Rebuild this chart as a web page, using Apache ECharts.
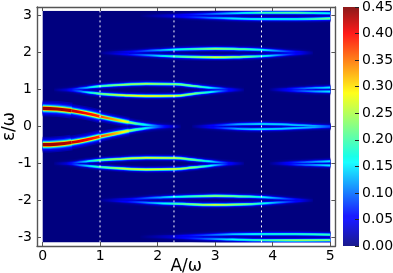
<!DOCTYPE html>
<html><head><meta charset="utf-8">
<style>html,body{margin:0;padding:0;background:#fff}#c{width:393px;height:273px}</style>
<script src="https://cdn.jsdelivr.net/npm/echarts@6/dist/echarts.min.js"></script>
</head><body><div id="c"></div>
<script>
// tick labels
const xTicks = [0, 1, 2, 3, 4, 5];
const yTicks = [-3, -2, -1, 0, 1, 2, 3];
const cbTicks = [0, 0.05, 0.1, 0.15, 0.2, 0.25, 0.3, 0.35, 0.4, 0.45];
// dotted guide lines, A/omega
const guideA = [0.997, 2.283, 3.805];

// each ridge: A values, energy, peak intensity
const mainA   = [0, 0.25, 0.5, 0.75, 1, 1.25, 1.5, 1.75, 2, 2.2, 2.4];
const mainUp  = [0.49, 0.475, 0.43, 0.36, 0.27, 0.19, 0.115, 0.055, 0.015, 0.003, 0];
const mainLo  = [-0.49, -0.475, -0.43, -0.36, -0.27, -0.19, -0.115, -0.055, -0.015, -0.003, 0];
const mainV   = [0.39, 0.39, 0.38, 0.36, 0.335, 0.29, 0.23, 0.15, 0.08, 0.03, 0];
// thickness of the main ridge along its four stretches: first knot, last knot, scale
const mainParts = [[0, 2, 2.1], [2, 4, 1.8], [4, 6, 1.45], [6, 10, 1.2]];

const b1A   = [0.2, 0.45, 0.7, 1, 1.4, 1.8, 2.3, 2.62, 2.9, 3.2, 3.5];
const p1Up  = [0.99, 1.0, 1.04, 1.09, 1.13, 1.155, 1.145, 1.095, 1.05, 1.015, 0.995];
const p1Lo  = [0.99, 0.98, 0.94, 0.885, 0.845, 0.825, 0.83, 0.885, 0.93, 0.965, 0.985];
const p1VUp = [0, 0.03, 0.09, 0.17, 0.21, 0.22, 0.2, 0.19, 0.13, 0.05, 0];
const p1VLo = [0, 0.03, 0.1, 0.19, 0.24, 0.26, 0.24, 0.2, 0.14, 0.05, 0];
const m1Up  = [-1.0, -0.99, -0.95, -0.905, -0.87, -0.845, -0.85, -0.895, -0.94, -0.98, -0.995];
const m1Lo  = [-1.0, -1.01, -1.05, -1.095, -1.135, -1.16, -1.15, -1.105, -1.06, -1.02, -1.0];
const m1VUp = [0, 0.03, 0.1, 0.19, 0.23, 0.24, 0.23, 0.19, 0.13, 0.05, 0];
const m1VLo = [0, 0.03, 0.1, 0.17, 0.23, 0.25, 0.24, 0.2, 0.14, 0.05, 0];

const b2A   = [1.0, 1.5, 2, 2.3, 3, 3.5, 3.8, 4.3, 4.7];
const p2Up  = [1.99, 2.02, 2.06, 2.08, 2.105, 2.09, 2.075, 2.025, 1.995];
const p2Lo  = [1.99, 1.95, 1.915, 1.895, 1.87, 1.885, 1.9, 1.95, 1.985];
const p2VUp = [0, 0.04, 0.1, 0.14, 0.21, 0.18, 0.14, 0.06, 0];
const p2VLo = [0, 0.05, 0.12, 0.17, 0.24, 0.2, 0.15, 0.06, 0];
const m2Up  = [-1.99, -1.96, -1.92, -1.9, -1.875, -1.89, -1.905, -1.96, -1.99];
const m2Lo  = [-1.99, -2.03, -2.07, -2.085, -2.115, -2.1, -2.08, -2.03, -1.995];
const m2VUp = [0, 0.04, 0.1, 0.14, 0.21, 0.18, 0.14, 0.06, 0];
const m2VLo = [0, 0.05, 0.12, 0.17, 0.24, 0.2, 0.15, 0.06, 0];

const b3A   = [1.7, 2.3, 2.8, 3.3, 3.8, 4.4, 5];
const p3Up  = [2.99, 3.01, 3.035, 3.06, 3.075, 3.075, 3.06];
const p3Lo  = [2.99, 2.97, 2.945, 2.92, 2.905, 2.905, 2.92];
const p3VUp = [0, 0.03, 0.07, 0.12, 0.17, 0.18, 0.13];
const p3VLo = [0, 0.03, 0.08, 0.13, 0.14, 0.15, 0.2];
const m3Up  = [-2.98, -2.96, -2.935, -2.91, -2.905, -2.905, -2.92];
const m3Lo  = [-2.98, -3.0, -3.03, -3.05, -3.07, -3.075, -3.07];
const m3VUp = [0, 0.03, 0.07, 0.12, 0.15, 0.16, 0.17];
const m3VLo = [0, 0.03, 0.08, 0.14, 0.17, 0.21, 0.2];

const z0A   = [2.6, 3, 3.4, 3.8, 4.36, 4.7, 5];
const z0Up  = [0, 0.03, 0.06, 0.072, 0.045, 0.02, 0.005];
const z0Lo  = [0, -0.03, -0.06, -0.072, -0.045, -0.02, -0.005];
const z0V   = [0, 0.05, 0.11, 0.13, 0.12, 0.11, 0.07];

const r1A   = [3.95, 4.25, 4.5, 4.75, 5];
const r1Up  = [1.0, 1.015, 1.03, 1.045, 1.055];
const r1Lo  = [0.99, 0.975, 0.96, 0.95, 0.945];
const r1mUp = [-1.0, -0.98, -0.965, -0.95, -0.94];
const r1mLo = [-1.0, -1.015, -1.03, -1.04, -1.05];
const r1V   = [0, 0.04, 0.08, 0.11, 0.14];

const ridges = [
  [b1A, p1Up, p1VUp, 1], [b1A, p1Lo, p1VLo, 1], [b1A, m1Up, m1VUp, 1], [b1A, m1Lo, m1VLo, 1],
  [b2A, p2Up, p2VUp, 1], [b2A, p2Lo, p2VLo, 1], [b2A, m2Up, m2VUp, 1], [b2A, m2Lo, m2VLo, 1],
  [b3A, p3Up, p3VUp, 1], [b3A, p3Lo, p3VLo, 1], [b3A, m3Up, m3VUp, 1], [b3A, m3Lo, m3VLo, 1],
  [z0A, z0Up, z0V, 1], [z0A, z0Lo, z0V, 1],
  [r1A, r1Up, r1V, 1], [r1A, r1Lo, r1V, 1], [r1A, r1mUp, r1V, 1], [r1A, r1mLo, r1V, 1]
];
mainParts.forEach(([i, j, s]) => {
  const cut = a => a.slice(i, j + 1);
  ridges.push([cut(mainA), cut(mainUp), cut(mainV), s], [cut(mainA), cut(mainLo), cut(mainV), s]);
});

// line-profile layers: full width in px, share of the peak value
const profile = [[7.5, 0.05], [6, 0.09], [5, 0.15], [4.2, 0.23], [3.4, 0.34], [2.8, 0.52], [2.2, 0.8], [1.5, 1.12]];

const VMAX = 0.45;
const jetStops = [[0, [0, 0, 127]], [0.11, [0, 0, 255]], [0.125, [0, 0, 255]], [0.35, [0, 255, 255]], [0.375, [0, 255, 230]],
  [0.64, [255, 255, 0]], [0.66, [255, 235, 0]], [0.89, [255, 0, 0]], [0.91, [230, 0, 0]], [1, [127, 0, 0]]];
function jet(v) {
  const t = Math.max(0, Math.min(1, v / VMAX));
  for (let i = 1; i < jetStops.length; i++) {
    if (t <= jetStops[i][0]) {
      const a = jetStops[i - 1], b = jetStops[i], k = (t - a[0]) / (b[0] - a[0]);
      return 'rgb(' + a[1].map((c, j) => Math.round(c + (b[1][j] - c) * k)).join(',') + ')';
    }
  }
  return 'rgb(127,0,0)';
}
function gradient(A, V, f) {
  const a0 = A[0], span = A[A.length - 1] - a0, stops = [];
  for (let i = 0; i < A.length - 1; i++) {
    for (let s = 0; s < 6; s++) {
      const k = s / 6;
      stops.push({ offset: (A[i] + (A[i + 1] - A[i]) * k - a0) / span, color: jet((V[i] + (V[i + 1] - V[i]) * k) * f) });
    }
  }
  stops.push({ offset: 1, color: jet(V[V.length - 1] * f) });
  return new echarts.graphic.LinearGradient(0, 0, 1, 0, stops);
}

const series = [];
profile.forEach(([w, f]) => {
  ridges.forEach(([A, E, V, spread]) => {
    series.push({
      type: 'line', xAxisIndex: 2, yAxisIndex: 2, data: A.map((a, i) => [a, E[i]]),
      smooth: 0.5, showSymbol: false, silent: true, animation: false, clip: true,
      lineStyle: { width: w * spread, color: gradient(A, V, f) }, z: 3
    });
  });
});
guideA.forEach(a => series.push({
  type: 'line', xAxisIndex: 2, yAxisIndex: 2, data: [[a, -3.13], [a, 3.13]], showSymbol: false, silent: true, animation: false,
  lineStyle: { color: '#fff', width: 1, type: [2, 3] }, z: 4
}));
series.push({
  type: 'bar', xAxisIndex: 3, yAxisIndex: 3, data: [VMAX], barWidth: '100%', silent: true, animation: false,
  itemStyle: {
    opacity: 0.9,
    color: new echarts.graphic.LinearGradient(0, 1, 0, 0, jetStops.map(s => ({ offset: s[0], color: 'rgb(' + s[1].join(',') + ')' })))
  }
});

const frame = '#555';
const txt = { color: '#000', fontFamily: 'DejaVu Sans', fontSize: 14 };
const nameTxt = { color: '#000', fontFamily: 'DejaVu Sans', fontSize: 17 };
const chart = echarts.init(document.getElementById('c'), null, { renderer: 'canvas' });
chart.setOption({
  animation: false,
  backgroundColor: '#fff',
  graphic: [
    { type: 'rect', silent: true, z: 5, shape: { x: 38, y: 7.7, width: 296.5, height: 3 }, style: { fill: '#fff' } },
    { type: 'rect', silent: true, z: 5, shape: { x: 38, y: 242.4, width: 296.5, height: 3 }, style: { fill: '#fff' } }
  ],
  grid: [
    { left: 37, top: 7, width: 298.4, height: 239, show: false, outerBoundsMode: 'none' },
    { left: 37, top: 7, width: 298.4, height: 239, show: false, outerBoundsMode: 'none' },
    { left: 42.7, top: 10.7, width: 287.5, height: 231.7, show: true, borderWidth: 0, backgroundColor: '#00007f', outerBoundsMode: 'none' },
    { left: 343, top: 7, width: 16, height: 239, show: false, outerBoundsMode: 'none' }
  ],
  xAxis: [
    { type: 'value', gridIndex: 0, min: -0.1, max: 5.09, position: 'bottom', z: 10, splitLine: { show: false },
      axisLine: { onZero: false, lineStyle: { color: frame, width: 1.4 } },
      axisTick: { inside: true, length: 4, customValues: xTicks, lineStyle: { color: frame } },
      axisLabel: { ...txt, margin: 3, customValues: xTicks },
      name: 'A/\u03c9', nameLocation: 'middle', nameGap: 12, nameMoveOverlap: false, nameTextStyle: nameTxt },
    { type: 'value', gridIndex: 1, min: -0.1, max: 5.09, position: 'top', z: 10, splitLine: { show: false },
      axisLine: { onZero: false, lineStyle: { color: frame, width: 1.4 } },
      axisTick: { inside: true, length: 4, customValues: xTicks, lineStyle: { color: frame } },
      axisLabel: { show: false } },
    { type: 'value', gridIndex: 2, min: 0, max: 5, show: false },
    { type: 'category', gridIndex: 3, data: [''], show: false }
  ],
  yAxis: [
    { type: 'value', gridIndex: 0, min: -3.23, max: 3.23, position: 'left', z: 10, splitLine: { show: false },
      axisLine: { onZero: false, show: true, lineStyle: { color: frame, width: 1.4 } },
      axisTick: { show: true, inside: true, length: 4, customValues: yTicks, lineStyle: { color: frame } },
      axisLabel: { ...txt, margin: 5, customValues: yTicks },
      name: '\u03b5/\u03c9', nameLocation: 'middle', nameGap: 19, nameMoveOverlap: false, nameTextStyle: nameTxt },
    { type: 'value', gridIndex: 1, min: -3.23, max: 3.23, position: 'right', z: 10, splitLine: { show: false },
      axisLine: { onZero: false, show: true, lineStyle: { color: frame, width: 1.4 } },
      axisTick: { show: true, inside: true, length: 4, customValues: yTicks, lineStyle: { color: frame } },
      axisLabel: { show: false } },
    { type: 'value', gridIndex: 2, min: -3.13, max: 3.13, show: false },
    { type: 'value', gridIndex: 3, min: 0, max: VMAX, position: 'right', z: 6, splitLine: { show: false },
      axisLine: { show: false },
      axisTick: { show: true, inside: true, length: 4, customValues: cbTicks, lineStyle: { color: '#222' } },
      axisLabel: { ...txt, margin: 3, customValues: cbTicks, formatter: v => v.toFixed(2) } }
  ],
  series
});
</script></body></html>
